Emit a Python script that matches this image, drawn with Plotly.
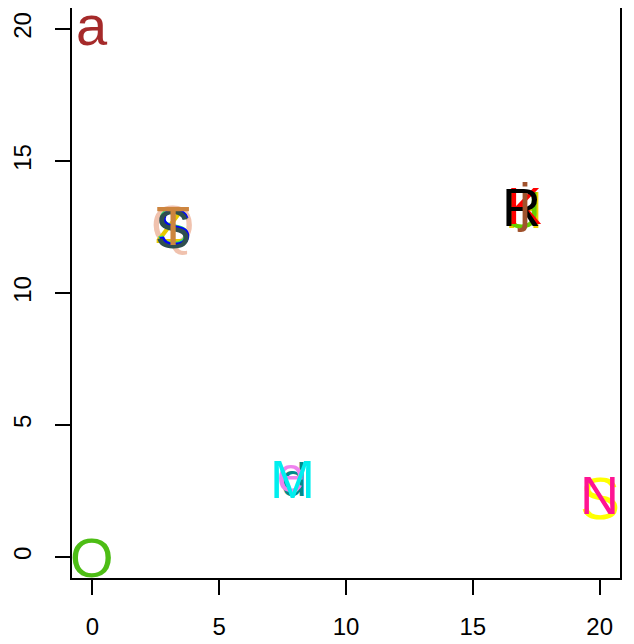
import plotly.graph_objects as go

# letters drawn as points (back to front)
labels = ["a", "O",
          "Q", "Z", "S", "S", "S", "T",
          "H", "U", "K", "R", "j",
          "d", "e", "M",
          "S", "N"]
x_vals = [0.0, 0.0,
          3.2, 3.1, 3.2, 3.25, 3.17, 3.2,
          17.0, 16.95, 17.05, 16.9, 17.0,
          7.95, 7.85, 7.9,
          20.0, 20.0]
y_vals = [20.0, 0.0,
          12.65, 12.6, 12.55, 12.5, 12.45, 12.6,
          13.2, 13.2, 13.35, 13.3, 13.3,
          2.95, 2.95, 3.0,
          2.25, 2.4]
colors = ["#A52A2A", "#4DBD15",
          "#F0C2AE", "#E8C800", "#33DD66", "#0000FF", "#2F4F4F", "#CD853F",
          "#E8D000", "#66CD00", "#FF0000", "#000000", "#A0522D",
          "#008B8B", "#EE82EE", "#00EEEE",
          "#FFFF00", "#FF1493"]
sizes = [56, 56,
         56, 52, 52, 52, 54, 56,
         52, 52, 52, 54, 54,
         46, 50, 54,
         60, 54]

x_ticks = [0, 5, 10, 15, 20]
y_ticks = [0, 5, 10, 15, 20]

SHORT = set("acemnorsuvwxzj")

fig = go.Figure()
# invisible trace to establish axes
fig.add_trace(go.Scatter(x=x_vals, y=y_vals, mode="markers",
                         marker=dict(opacity=0), hoverinfo="skip",
                         showlegend=False))
for lab, xv, yv, col, sz in zip(labels, x_vals, y_vals, colors, sizes):
    fig.add_annotation(
        x=xv, y=yv, xref="x", yref="y", text=lab, showarrow=False,
        xanchor="center", yanchor="middle",
        yshift=4 if lab in SHORT else -1,
        font=dict(family="Liberation Sans", size=sz, color=col),
    )

axis_common = dict(
    range=[-0.8, 20.8], showgrid=False, zeroline=False, automargin=False,
    showline=True, mirror=True, linecolor="black", linewidth=1.5,
    ticks="outside", ticklen=15, tickwidth=1.5, tickcolor="black",
    tickfont=dict(family="Liberation Sans", size=24, color="black"),
)
fig.update_xaxes(tickvals=x_ticks, ticktext=[str(v) for v in x_ticks],
                 ticklabelstandoff=11, **axis_common)
fig.update_yaxes(tickvals=y_ticks, ticktext=[str(v) for v in y_ticks],
                 tickangle=-90, ticklabelstandoff=15, **axis_common)

fig.update_layout(
    width=634, height=644,
    margin=dict(l=64, r=22, t=0, b=74),
    plot_bgcolor="white", paper_bgcolor="white",
)

fig.write_html("out.html")
